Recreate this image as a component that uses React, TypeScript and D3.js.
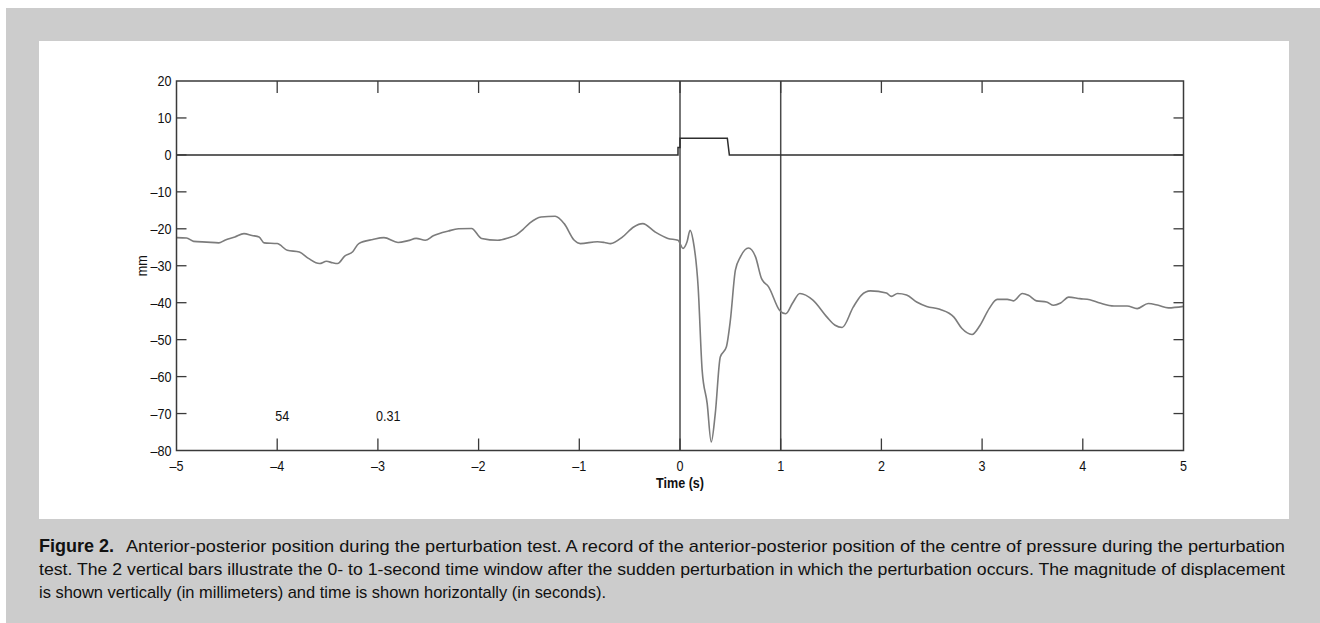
import React from 'react';
import * as d3 from 'd3';

// centre of pressure, anterior-posterior (mm) against time (s)
const timeS = [
  -5.0, -4.9, -4.83, -4.7, -4.58, -4.52, -4.42, -4.33, -4.25, -4.18, -4.13, -4.0, -3.9, -3.78, -3.69,
  -3.58, -3.51, -3.45, -3.4, -3.33, -3.25, -3.19, -3.05, -2.94, -2.8, -2.7, -2.62, -2.53, -2.45, -2.3,
  -2.2, -2.07, -1.97, -1.81, -1.7, -1.63, -1.56, -1.49, -1.38, -1.24, -1.15, -1.05, -0.99, -0.82, -0.75,
  -0.69, -0.57, -0.46, -0.37, -0.25, -0.12, -0.02, 0.03, 0.07, 0.1, 0.13, 0.18, 0.22, 0.27, 0.31,
  0.35, 0.4, 0.46, 0.5, 0.55, 0.6, 0.68, 0.75, 0.81, 0.88, 0.99, 1.05, 1.12, 1.19, 1.32,
  1.46, 1.54, 1.61, 1.72, 1.8, 1.89, 2.05, 2.1, 2.16, 2.25, 2.35, 2.45, 2.58, 2.72, 2.8,
  2.9, 2.98, 3.07, 3.15, 3.25, 3.31, 3.4, 3.46, 3.54, 3.64, 3.71, 3.78, 3.86, 3.97, 4.07,
  4.17, 4.31, 4.44, 4.54, 4.65, 4.75, 4.85, 5.0,
];
const positionMm = [
  -22.4, -22.5, -23.4, -23.6, -23.8, -23.1, -22.2, -21.3, -21.8, -22.2, -23.8, -24.0, -25.8, -26.3, -28.0,
  -29.4, -28.8, -29.2, -29.4, -27.4, -26.2, -24.0, -22.9, -22.4, -23.7, -23.2, -22.6, -23.1, -21.9, -20.6,
  -20.0, -19.9, -22.6, -23.1, -22.4, -21.7, -20.2, -18.4, -16.8, -16.6, -18.6, -23.1, -24.0, -23.5, -23.7,
  -24.0, -22.2, -19.5, -18.6, -20.8, -22.6, -23.1, -25.3, -23.5, -20.4, -23.1, -35.7, -58.3, -67.3, -77.7,
  -70.1, -54.7, -52.0, -44.8, -31.2, -27.6, -25.2, -27.6, -33.5, -35.7, -42.1, -43.0, -40.0, -37.5, -39.3,
  -43.9, -46.1, -46.7, -41.2, -38.0, -36.8, -37.4, -38.3, -37.5, -37.9, -39.8, -41.0, -41.8, -43.9, -47.0,
  -48.6, -46.1, -41.6, -39.1, -39.1, -39.5, -37.5, -38.0, -39.5, -39.8, -40.7, -40.1, -38.5, -38.9, -39.2,
  -40.1, -40.9, -40.9, -41.6, -40.2, -40.7, -41.4, -41.0,
];

// perturbation trigger signal
const triggerT = [-5, -0.02, -0.02, 0, 0, 0.47, 0.49, 5];
const triggerV = [0, 0, 2, 2, 4.5, 4.5, 0, 0];

const windowMarks = [0, 1];
const xTicks = [-5, -4, -3, -2, -1, 0, 1, 2, 3, 4, 5];
const yTicks = [20, 10, 0, -10, -20, -30, -40, -50, -60, -70, -80];
const notes = [
  { t: -4, v: -70, label: '54' },
  { t: -3, v: -70, label: '0.31' },
];

const captionLines = [
  'Anterior-posterior position during the perturbation test. A record of the anterior-posterior position of the centre of pressure during the perturbation',
  'test. The 2 vertical bars illustrate the 0- to 1-second time window after the sudden perturbation in which the perturbation occurs. The magnitude of displacement',
  'is shown vertically (in millimeters) and time is shown horizontally (in seconds).',
];

const sans = "'Liberation Sans', Arial, Helvetica, sans-serif";
const axisColor = '#3a3a3a';
const textColor = '#111111';
const squeeze = 0.84; // labels in the figure are set in a condensed face

const minus = (v: number) => (v < 0 ? '\u2013' + Math.abs(v) : String(v));

function NarrowText({x, y, anchor = 'start', size = 15, weight = 'normal', rotate = 0, children}: any) {
  return (
    <text
      transform={`translate(${x}, ${y}) rotate(${rotate}) scale(${squeeze}, 1)`}
      textAnchor={anchor}
      fontFamily={sans}
      fontSize={size}
      fontWeight={weight}
      fill={textColor}
    >
      {children}
    </text>
  );
}

function Plot({left, top, right, bottom}: {left: number; top: number; right: number; bottom: number}) {
  const x = d3.scaleLinear().domain([-5, 5]).range([left, right]);
  const y = d3.scaleLinear().domain([-80, 20]).range([bottom, top]);

  const trace = d3.line<number>()
    .x((d, i) => x(timeS[i]))
    .y((d) => y(d))
    .curve(d3.curveMonotoneX);

  const trigger = d3.line<number>()
    .x((d, i) => x(triggerT[i]))
    .y((d) => y(d));

  const tickX = 12;
  const tickY = 10;

  return (
    <g>
      {windowMarks.map((t) => (
        <line key={`win_${t}`} x1={x(t)} x2={x(t)} y1={top} y2={bottom} stroke="#4a4a4a" strokeWidth={1.5} />
      ))}
      <path d={trigger(triggerV) || ''} fill="none" stroke="#2e2e2e" strokeWidth={1.5} />
      <path d={trace(positionMm) || ''} fill="none" stroke="#7c7c7c" strokeWidth={1.6} strokeLinejoin="round" />

      <rect x={left} y={top} width={right - left} height={bottom - top} fill="none" stroke={axisColor} strokeWidth={1.5} />

      {xTicks.slice(1, -1).map((t) => (
        <g key={`xt_${t}`}>
          <line x1={x(t)} x2={x(t)} y1={bottom} y2={bottom - tickX} stroke={axisColor} strokeWidth={1.3} />
          <line x1={x(t)} x2={x(t)} y1={top} y2={top + tickX} stroke={axisColor} strokeWidth={1.3} />
        </g>
      ))}
      {yTicks.slice(1, -1).map((v) => (
        <g key={`yt_${v}`}>
          <line x1={left} x2={left + tickY} y1={y(v)} y2={y(v)} stroke={axisColor} strokeWidth={1.3} />
          <line x1={right} x2={right - tickY} y1={y(v)} y2={y(v)} stroke={axisColor} strokeWidth={1.3} />
        </g>
      ))}

      {xTicks.map((t) => (
        <NarrowText key={`xl_${t}`} x={x(t)} y={bottom + 20} anchor="middle">
          {minus(t)}
        </NarrowText>
      ))}
      {yTicks.map((v) => (
        <NarrowText key={`yl_${v}`} x={left - 5} y={y(v) + 5} anchor="end">
          {minus(v)}
        </NarrowText>
      ))}

      {notes.map((n) => (
        <NarrowText key={n.label} x={x(n.t) - 2} y={y(n.v) + 7}>
          {n.label}
        </NarrowText>
      ))}

      <NarrowText x={(left + right) / 2} y={bottom + 37} anchor="middle" weight="bold">
        Time (s)
      </NarrowText>
      <NarrowText x={left - 30} y={(top + bottom) / 2} anchor="middle" rotate={-90}>
        mm
      </NarrowText>
    </g>
  );
}

export default function App() {
  const width = 1320;
  const height = 623;

  return (
    <svg width={width} height={height} xmlns="http://www.w3.org/2000/svg" style={{position: 'absolute', left: 0, top: 0}}>
      <rect x={0} y={0} width={width} height={height} fill="#ffffff" />
      <rect x={6} y={8} width={width - 6} height={height - 8} fill="#cccccc" />
      <rect x={39} y={41} width={1250} height={478} fill="#ffffff" />

      <Plot left={176.5} top={81} right={1183.5} bottom={450.5} />

      <text x={39} y={552} fontFamily={sans} fontWeight="bold" fontSize={18} fill="#111">
        Figure 2.
      </text>
      <text x={126} y={552} fontFamily={sans} fontSize={17} fill="#111" textLength={1159} lengthAdjust="spacingAndGlyphs">
        {captionLines[0]}
      </text>
      <text x={39} y={575} fontFamily={sans} fontSize={17} fill="#111" textLength={1246} lengthAdjust="spacingAndGlyphs">
        {captionLines[1]}
      </text>
      <text x={39} y={598} fontFamily={sans} fontSize={17} fill="#111" textLength={567} lengthAdjust="spacingAndGlyphs">
        {captionLines[2]}
      </text>
    </svg>
  );
}
